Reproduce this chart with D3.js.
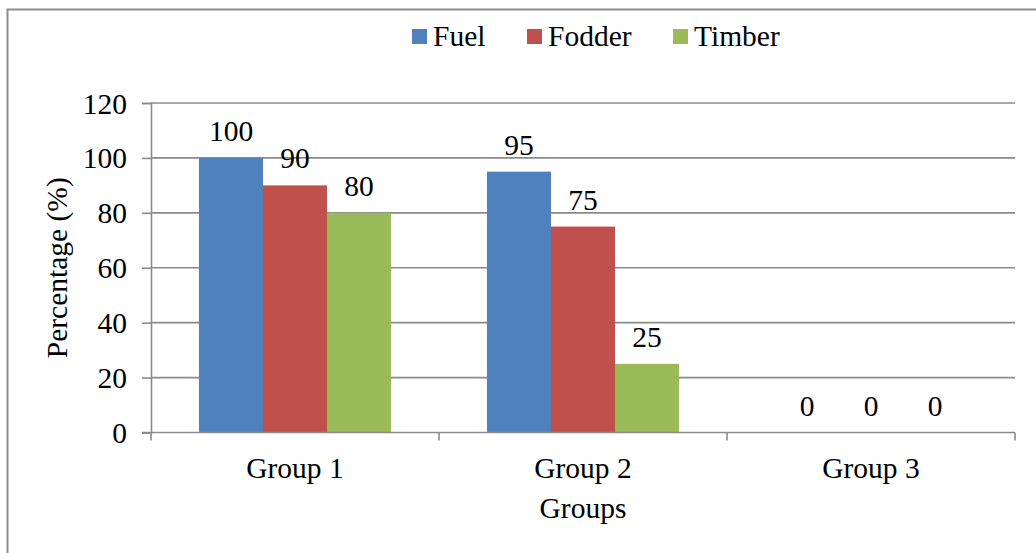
<!DOCTYPE html>
<html>
<head>
<meta charset="utf-8">
<script src="https://cdn.jsdelivr.net/npm/d3@7"></script>
<style>
  html, body { margin: 0; padding: 0; background: #fff; }
  svg { display: block; }
  svg text { font-family: "Liberation Serif", "Times New Roman", Times, serif; fill: #000; }
</style>
</head>
<body>
<svg id="chart" width="1036" height="553"></svg>
<script>
// Chart data
const groups = ["Group 1", "Group 2", "Group 3"];
const series = ["Fuel", "Fodder", "Timber"];
const fuel = [100, 95, 0];
const fodder = [90, 75, 0];
const timber = [80, 25, 0];
const yTicks = [0, 20, 40, 60, 80, 100, 120];
const colors = ["#4F81BD", "#C0504D", "#9BBB59"];

const values = [fuel, fodder, timber];
const rows = groups.map((g, i) => ({
  group: g,
  items: series.map((s, j) => ({ key: s, value: values[j][i], color: colors[j] }))
}));

const svg = d3.select("#chart");
const W = 1036, H = 553;
const plot = { left: 151, right: 1015, top: 103, bottom: 432.5 };
const FONT = 29.5;
const SERIF = "'Liberation Serif', 'Times New Roman', Times, serif";
const GRID = "#8a8a8a";

// Outer frame (extends past the lower and right edges)
svg.append("rect")
  .attr("x", 7.5).attr("y", 9.5)
  .attr("width", W + 20).attr("height", H + 20)
  .attr("fill", "#fff").attr("stroke", "#8c8c8c").attr("stroke-width", 2);

const x = d3.scaleBand().domain(groups).range([plot.left, plot.right]).padding(0);
const xs = d3.scaleBand().domain(series).range([0, x.bandwidth()])
  .paddingInner(0).paddingOuter(0.75);
const y = d3.scaleLinear().domain([0, 120]).range([plot.bottom, plot.top]);

// Horizontal gridlines
svg.append("g").selectAll("line")
  .data(yTicks.filter(t => t > 0))
  .join("line")
  .attr("x1", plot.left).attr("x2", plot.right)
  .attr("y1", d => y(d)).attr("y2", d => y(d))
  .attr("stroke", GRID).attr("stroke-width", 1.6);

// Bars
const gGroups = svg.append("g").selectAll("g")
  .data(rows)
  .join("g")
  .attr("transform", d => `translate(${x(d.group)},0)`);

gGroups.selectAll("rect")
  .data(d => d.items)
  .join("rect")
  .attr("x", d => xs(d.key))
  .attr("y", d => y(d.value))
  .attr("width", xs.bandwidth())
  .attr("height", d => y(0) - y(d.value))
  .attr("fill", d => d.color);

// Value labels
gGroups.selectAll("text")
  .data(d => d.items)
  .join("text")
  .attr("x", d => xs(d.key) + xs.bandwidth() / 2)
  .attr("y", d => y(d.value) - 17)
  .attr("text-anchor", "middle")
  .attr("font-family", SERIF)
  .attr("font-size", FONT)
  .text(d => d.value);

// Y axis
const yAxis = svg.append("g")
  .attr("transform", `translate(${plot.left},0)`)
  .call(d3.axisLeft(y).tickValues(yTicks).tickSize(9).tickPadding(15))
  .attr("font-family", SERIF)
  .attr("font-size", FONT);
yAxis.select(".domain").attr("stroke", GRID).attr("stroke-width", 1.6);
yAxis.selectAll(".tick line").attr("stroke", GRID).attr("stroke-width", 1.6);
yAxis.selectAll(".tick text")
  .attr("fill", "#000")
  .attr("dy", "0.34em");

// X axis with separators between groups
const xAxis = svg.append("g")
  .attr("transform", `translate(0,${plot.bottom})`)
  .attr("font-family", SERIF)
  .attr("font-size", FONT);
xAxis.append("line")
  .attr("x1", plot.left - 9).attr("x2", plot.right)
  .attr("stroke", GRID).attr("stroke-width", 1.6);
const boundaries = groups.map(g => x(g)).concat([x(groups[groups.length - 1]) + x.bandwidth()]);
xAxis.selectAll("line.sep")
  .data(boundaries)
  .join("line")
  .attr("class", "sep")
  .attr("x1", d => d).attr("x2", d => d)
  .attr("y1", 0).attr("y2", 8)
  .attr("stroke", GRID).attr("stroke-width", 1.6);
xAxis.selectAll("text")
  .data(groups)
  .join("text")
  .attr("x", d => x(d) + x.bandwidth() / 2)
  .attr("y", 45)
  .attr("text-anchor", "middle")
  .text(d => d);

// Axis titles
svg.append("text")
  .attr("transform", `translate(67,${(plot.top + plot.bottom) / 2}) rotate(-90)`)
  .attr("text-anchor", "middle")
  .attr("font-family", SERIF)
  .attr("font-size", FONT)
  .text("Percentage (%)");

svg.append("text")
  .attr("x", (plot.left + plot.right) / 2)
  .attr("y", 518)
  .attr("text-anchor", "middle")
  .attr("font-family", SERIF)
  .attr("font-size", FONT)
  .text("Groups");

// Legend
const legendX = [412, 527, 673];
const legend = svg.append("g").selectAll("g")
  .data(series)
  .join("g")
  .attr("transform", (d, i) => `translate(${legendX[i]},29)`);
legend.append("rect")
  .attr("width", 15).attr("height", 15)
  .attr("fill", (d, i) => colors[i]);
legend.append("text")
  .attr("x", 21).attr("y", 16.5)
  .attr("font-family", SERIF)
  .attr("font-size", FONT)
  .text(d => d);
</script>
</body>
</html>
